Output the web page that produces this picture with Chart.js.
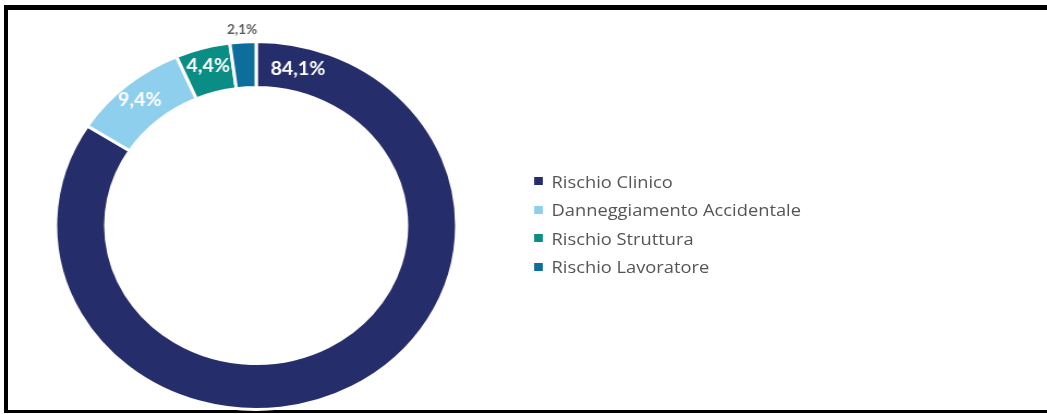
<!DOCTYPE html>
<html>
<head>
<meta charset="utf-8">
<script src="https://cdn.jsdelivr.net/npm/chart.js@4.4.1/dist/chart.umd.min.js"></script>
<style>
  html, body { margin: 0; padding: 0; background: #fff; overflow: hidden; }
  #frame {
    position: absolute; left: 4px; top: 5px; width: 1043px; height: 408px;
    border-top: 5px solid #000; border-left: 4px solid #000; border-bottom: 3px solid #000;
    box-sizing: border-box;
  }
  #stretch {
    position: absolute; left: 0; top: 0; width: 960px; height: 414px;
    transform: scaleX(1.09); transform-origin: 0 0;
  }
  #legend {
    position: absolute; left: 490px; top: 167px; margin: 0; padding: 0; list-style: none;
    font-family: "Open Sans", sans-serif; font-size: 16.8px; color: #555;
  }
  #legend li { height: 28.5px; display: flex; align-items: center; }
  #legend .box { width: 7.5px; height: 8px; margin-right: 8.5px; }
</style>
</head>
<body>
<div id="frame"></div>
<div id="stretch">
  <canvas id="donut" width="960" height="414"></canvas>
  <ul id="legend"></ul>
</div>
<script>
const categories = ["Rischio Clinico", "Danneggiamento Accidentale", "Rischio Struttura", "Rischio Lavoratore"];
const shares = [84.1, 9.4, 4.4, 2.1];
const colors = ["#262D6B", "#8FCFEE", "#0A8D85", "#0E6E9B"];

const fmt = (v) => v.toFixed(1).replace(".", ",") + "%";

// draws the percentage on each slice, small ones go outside the ring
const sliceLabels = {
  id: "sliceLabels",
  afterDatasetsDraw(chart) {
    const ctx = chart.ctx;
    const meta = chart.getDatasetMeta(0);
    meta.data.forEach((arc, i) => {
      const p = arc.getProps(["x", "y", "startAngle", "endAngle", "innerRadius", "outerRadius"], true);
      const span = p.endAngle - p.startAngle;
      const angle = span > Math.PI ? p.startAngle + 0.24 : (p.startAngle + p.endAngle) / 2;
      const inside = span > 0.2;
      const r = inside ? (p.innerRadius + p.outerRadius) / 2 + (span < 1 ? 4 : 0) : p.outerRadius + 12;
      ctx.save();
      ctx.font = inside ? "bold 18px Lato, sans-serif" : "bold 12.5px Lato, sans-serif";
      ctx.fillStyle = inside ? "#fff" : "#5f5f5f";
      ctx.textAlign = "center";
      ctx.textBaseline = "middle";
      ctx.fillText(fmt(shares[i]), p.x + Math.cos(angle) * r, p.y + Math.sin(angle) * r);
      ctx.restore();
    });
  }
};

const chart = new Chart(document.getElementById("donut"), {
  type: "doughnut",
  data: {
    labels: categories,
    datasets: [{
      data: shares,
      backgroundColor: colors,
      borderColor: "#fff",
      borderWidth: 3,
    }],
  },
  options: {
    responsive: false,
    animation: false,
    cutout: "75%",
    layout: { padding: { left: 49.5, top: 40, bottom: 3, right: 539.5 } },
    plugins: {
      legend: { display: false },
      tooltip: { enabled: false },
    },
  },
  plugins: [sliceLabels],
});

const legend = document.getElementById("legend");
categories.forEach((name, i) => {
  const li = document.createElement("li");
  const box = document.createElement("span");
  box.className = "box";
  box.style.background = colors[i];
  li.appendChild(box);
  li.appendChild(document.createTextNode(name));
  legend.appendChild(li);
});
</script>
</body>
</html>
